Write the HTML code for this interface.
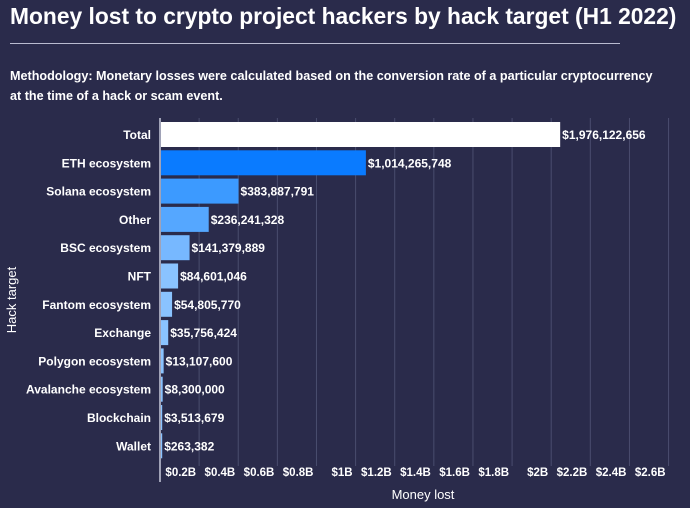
<!DOCTYPE html>
<html><head><meta charset="utf-8"><style>
body{margin:0;background:#2a2b4b;font-family:"Liberation Sans",sans-serif;}
#wrap{position:relative;width:690px;height:508px;overflow:hidden;background:#2a2b4b;}
h1{position:absolute;left:10px;top:3px;margin:0;font-size:22.8px;color:#fff;font-weight:bold;white-space:nowrap;}
#rule{position:absolute;left:10px;top:43px;width:610px;height:1px;background:#b9bbd0;}
#meth{position:absolute;left:10px;top:66px;width:655px;font-size:12.6px;line-height:20px;color:#fff;font-weight:bold;}
</style></head><body>
<div id="wrap">
<h1>Money lost to crypto project hackers by hack target (H1 2022)</h1>
<div id="rule"></div>
<div id="meth">Methodology: Monetary losses were calculated based on the conversion rate of a particular cryptocurrency<br>at the time of a hack or scam event.</div>
<svg id="chart" width="690" height="508" style="position:absolute;left:0;top:0"></svg>
</div>
<script>
const categories=["Total","ETH ecosystem","Solana ecosystem","Other","BSC ecosystem","NFT","Fantom ecosystem","Exchange","Polygon ecosystem","Avalanche ecosystem","Blockchain","Wallet"];
const values=[1976122656,1014265748,383887791,236241328,141379889,84601046,54805770,35756424,13107600,8300000,3513679,263382];
const ticks=[0.2,0.4,0.6,0.8,1,1.2,1.4,1.6,1.8,2,2.2,2.4,2.6];
const tickLabels=["$0.2B","$0.4B","$0.6B","$0.8B","$1B","$1.2B","$1.4B","$1.6B","$1.8B","$2B","$2.2B","$2.4B","$2.6B"];
const colors=["#ffffff","#0a7bff","#3c9aff","#55a7ff","#77b8ff","#8ac3ff","#8ac3ff","#8ac3ff","#8ac3ff","#8ac3ff","#8ac3ff","#8ac3ff"];
const NS="http://www.w3.org/2000/svg";
const svg=document.getElementById('chart');
const x0=161;
function xBar(v){return x0+v/1e9*202;}
function xGrid(b){return 160+b*195.6;}
function yRow(i){return 122+i*28.3;}
function mk(t,a){const e=document.createElementNS(NS,t);for(const k in a)e.setAttribute(k,a[k]);svg.appendChild(e);return e;}
ticks.forEach((t,i)=>{
  const g=mk('line',{x1:xGrid(t),x2:xGrid(t),y1:118,y2:466,stroke:'#4a4d6e','stroke-width':1});
  
  
  const l=mk('text',{x:xGrid(t)-3,y:476,'text-anchor':'end',fill:'#fff','font-size':11.5,'font-weight':'bold'});
  l.textContent=tickLabels[i];
  
  
});
const ax=mk('line',{x1:160,x2:160,y1:118,y2:482,stroke:'#c8cadb','stroke-width':1.5});


categories.forEach((c,i)=>{
  const y=yRow(i);
  const lab=mk('text',{x:151,y:y+17,'text-anchor':'end',fill:'#fff','font-size':12,'font-weight':'bold'});
  lab.textContent=c;
  
  
  const w=Math.max(xBar(values[i])-x0,1.2);
  const r=mk('rect',{x:x0,y:y,width:w,height:25,fill:colors[i]});
  
  
  const v=mk('text',{x:x0+w+2,y:y+17,fill:'#fff','font-size':12,'font-weight':'bold'});
  v.textContent='$'+values[i].toLocaleString('en-US');
  
  
});
const xt=mk('text',{x:423,y:499,'text-anchor':'middle',fill:'#fff','font-size':13});
xt.textContent='Money lost';


const yt=mk('text',{x:0,y:0,'text-anchor':'middle',fill:'#fff','font-size':13,transform:'translate(16,300) rotate(-90)'});
yt.textContent='Hack target';


</script>
</body></html>
